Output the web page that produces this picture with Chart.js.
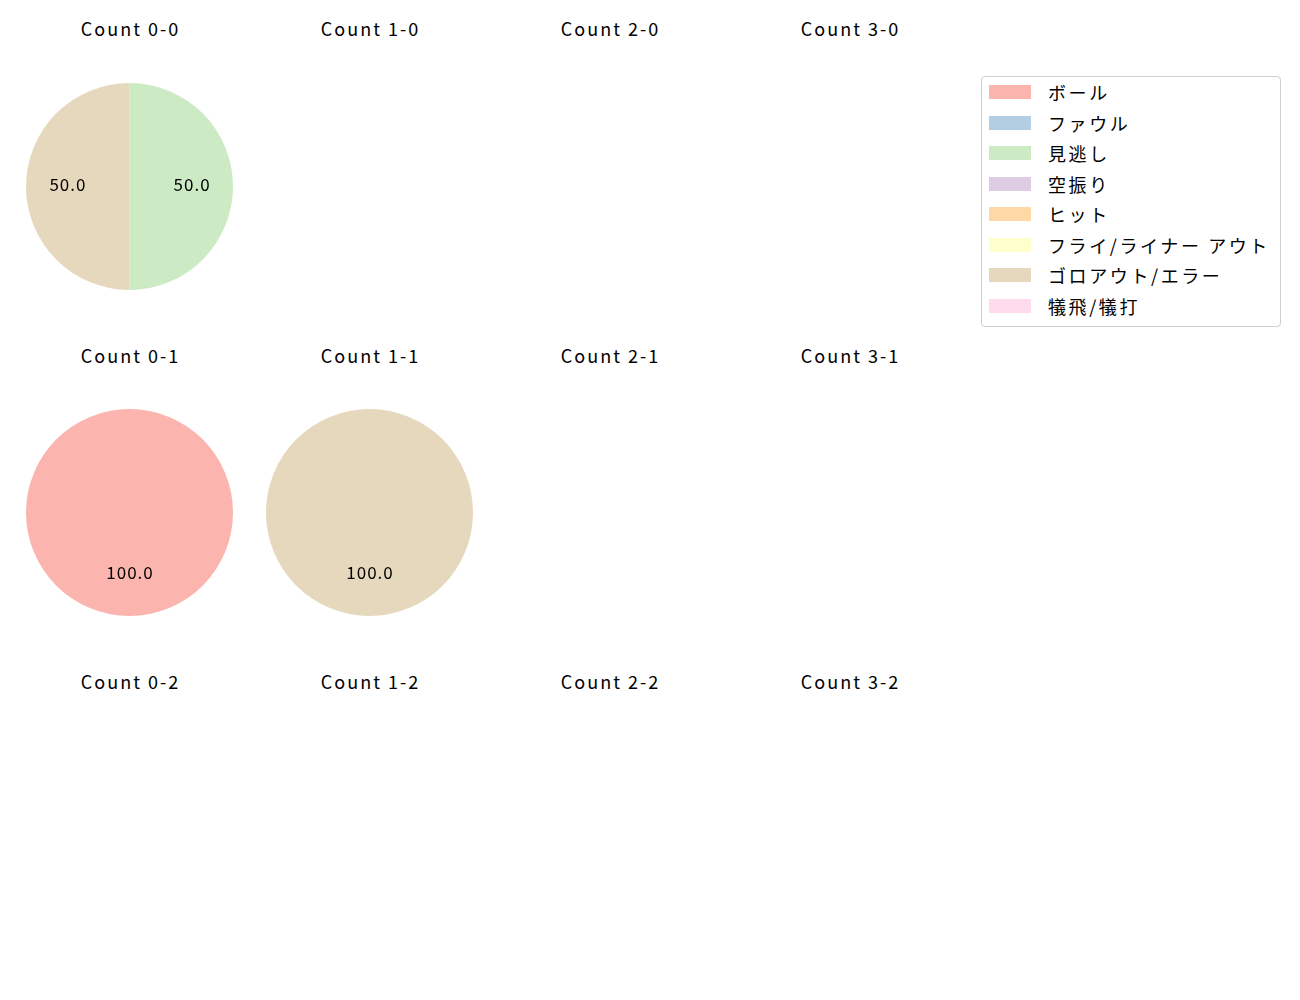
<!DOCTYPE html>
<html>
<head>
<meta charset="utf-8">
<script src="https://cdn.jsdelivr.net/npm/chart.js@4.4.0/dist/chart.umd.min.js"></script>
<style>
    body { margin: 0; background: #fff; font-family: "Noto Sans CJK JP", "Noto Sans", sans-serif; }
    #stage { position: relative; width: 1300px; height: 1000px; overflow: hidden; }
    .title { position: absolute; width: 200px; text-align: center; font-size: 18px; letter-spacing: 2px; padding-left: 2px; line-height: 22px; color: #000; }
    canvas { position: absolute; }
    .legend { position: absolute; left: 981px; top: 76px; width: 298px; height: 249px; border: 1px solid #cfcfcf; border-radius: 4px; }
    .legend-item { position: absolute; left: 7px; height: 22px; }
    .legend-item .swatch { position: absolute; left: 0; top: 4px; width: 42px; height: 14px; }
    .legend-item .label { position: absolute; left: 59px; top: 0; white-space: nowrap; font-size: 18px; letter-spacing: 2.6px; line-height: 22px; color: #000; }
</style>
</head>
<body>
<div id="stage"></div>
<script>
const categories = ["ボール", "ファウル", "見逃し", "空振り", "ヒット", "フライ/ライナー アウト", "ゴロアウト/エラー", "犠飛/犠打"];
const colors = ["#fbb4ae", "#b3cde3", "#ccebc5", "#decbe4", "#fed9a6", "#ffffcc", "#e5d8bd", "#fddaec"];

// balls-strikes of each panel, column = balls, row = strikes
const countTitles = [
    ["Count 0-0", "Count 1-0", "Count 2-0", "Count 3-0"],
    ["Count 0-1", "Count 1-1", "Count 2-1", "Count 3-1"],
    ["Count 0-2", "Count 1-2", "Count 2-2", "Count 3-2"]
];

const count00 = [0, 0, 1, 0, 0, 0, 1, 0];
const count10 = [0, 0, 0, 0, 0, 0, 0, 0];
const count20 = [0, 0, 0, 0, 0, 0, 0, 0];
const count30 = [0, 0, 0, 0, 0, 0, 0, 0];
const count01 = [1, 0, 0, 0, 0, 0, 0, 0];
const count11 = [0, 0, 0, 0, 0, 0, 1, 0];
const count21 = [0, 0, 0, 0, 0, 0, 0, 0];
const count31 = [0, 0, 0, 0, 0, 0, 0, 0];
const count02 = [0, 0, 0, 0, 0, 0, 0, 0];
const count12 = [0, 0, 0, 0, 0, 0, 0, 0];
const count22 = [0, 0, 0, 0, 0, 0, 0, 0];
const count32 = [0, 0, 0, 0, 0, 0, 0, 0];

const countValues = [
    [count00, count10, count20, count30],
    [count01, count11, count21, count31],
    [count02, count12, count22, count32]
];

const stage = document.getElementById("stage");

// percentage labels at 0.6 of the radius, like autopct
const pctLabels = {
    id: "pctLabels",
    afterDatasetsDraw(chart) {
        const ctx = chart.ctx;
        const data = chart.data.datasets[0].data;
        const total = data.reduce((a, b) => a + b, 0);
        if (!total) return;
        ctx.save();
        ctx.font = '17px "Noto Sans CJK JP", "Noto Sans", sans-serif';
        ctx.letterSpacing = "1px";
        ctx.fillStyle = "#000";
        ctx.textAlign = "center";
        ctx.textBaseline = "middle";
        chart.getDatasetMeta(0).data.forEach((arc, i) => {
            if (!data[i]) return;
            const mid = (arc.startAngle + arc.endAngle) / 2;
            const r = arc.outerRadius * 0.6;
            const x = arc.x + Math.cos(mid) * r;
            const y = arc.y + Math.sin(mid) * r;
            ctx.fillText((data[i] / total * 100).toFixed(1), x + 0.5, y - 2);
        });
        ctx.restore();
    }
};

for (let row = 0; row < 3; row++) {
    for (let col = 0; col < 4; col++) {
        const cx = 129.5 + col * 240;
        const cy = 186 + row * 326.5;

        const title = document.createElement("div");
        title.className = "title";
        title.textContent = countTitles[row][col];
        title.style.left = (cx - 101) + "px";
        title.style.top = (cy - 169) + "px";
        stage.appendChild(title);

        const canvas = document.createElement("canvas");
        canvas.width = 209;
        canvas.height = 209;
        canvas.style.left = (cx - 104.5) + "px";
        canvas.style.top = (cy - 104.5) + "px";
        stage.appendChild(canvas);

        new Chart(canvas, {
            type: "pie",
            data: {
                labels: categories,
                datasets: [{
                    data: countValues[row][col],
                    backgroundColor: colors,
                    borderWidth: 0
                }]
            },
            options: {
                responsive: false,
                animation: false,
                layout: { padding: 1 },
                plugins: {
                    legend: { display: false },
                    tooltip: { enabled: false }
                }
            },
            plugins: [pctLabels]
        });
    }
}

// legend box
const legend = document.createElement("div");
legend.className = "legend";
categories.forEach((name, i) => {
    const item = document.createElement("div");
    item.className = "legend-item";
    item.style.top = (4 + i * 30.5) + "px";
    const sw = document.createElement("div");
    sw.className = "swatch";
    sw.style.background = colors[i];
    const lb = document.createElement("div");
    lb.className = "label";
    lb.textContent = name;
    item.appendChild(sw);
    item.appendChild(lb);
    legend.appendChild(item);
});
stage.appendChild(legend);
</script>
</body>
</html>
